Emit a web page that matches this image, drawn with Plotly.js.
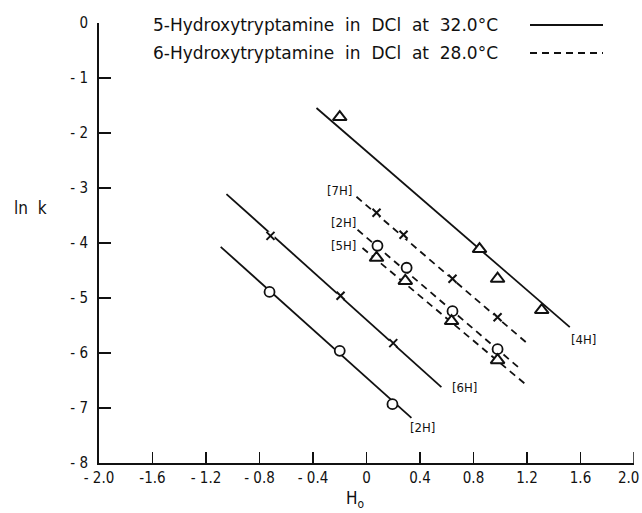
<!DOCTYPE html>
<html><head><meta charset="utf-8">
<script src="https://cdn.plot.ly/plotly-3.0.1.min.js"></script>
<style>html,body{margin:0;padding:0;background:#fff}</style>
</head><body>
<div id="chart" style="width:642px;height:513px"></div>
<script>
// ---- Data ----
// 5-Hydroxytryptamine in DCl at 32.0 C (solid lines)
const h4_x = [-0.20, 0.845, 0.98, 1.31];
const h4_y = [-1.71, -4.11, -4.65, -5.22];
const h4_fitX = [-0.374, 1.52];
const h4_fitY = [-1.545, -5.53];

const h6_x = [-0.718, -0.194, 0.20];
const h6_y = [-3.87, -4.96, -5.82];
const h6_fitX = [-1.047, 0.56];
const h6_fitY = [-3.11, -6.62];

const h2s_x = [-0.725, -0.20, 0.194];
const h2s_y = [-4.89, -5.96, -6.93];
const h2s_fitX = [-1.09, 0.336];
const h2s_fitY = [-4.07, -7.18];

// 6-Hydroxytryptamine in DCl at 28.0 C (dashed lines)
const h7_x = [0.075, 0.277, 0.643, 0.98];
const h7_y = [-3.45, -3.85, -4.65, -5.35];
const h7_fitX = [-0.075, 1.20];
const h7_fitY = [-3.16, -5.82];

const h2d_x = [0.082, 0.30, 0.643, 0.98];
const h2d_y = [-4.05, -4.45, -5.24, -5.93];
const h2d_fitX = [-0.067, 1.16];
const h2d_fitY = [-3.76, -6.31];

const h5_x = [0.075, 0.29, 0.636, 0.98];
const h5_y = [-4.27, -4.69, -5.42, -6.13];
const h5_fitX = [-0.03, 1.18];
const h5_fitY = [-4.09, -6.55];

// line labels
const labelText = ['[4H]', '[6H]', '[2H]', '[7H]', '[2H]', '[5H]'];
const labelX = [1.62, 0.73, 0.42, -0.20, -0.17, -0.17];
const labelY = [-5.76, -6.62, -7.36, -3.05, -3.62, -4.04];

const xTickVals = [-2.0, -1.6, -1.2, -0.8, -0.4, 0, 0.4, 0.8, 1.2, 1.6, 2.0];
const xTickText = ['- 2.0', '-1.6', '- 1.2', '- 0.8', '- 0.4', '0', '0.4', '0.8', '1.2', '1.6', '2.0'];
const yTickVals = [0, -1, -2, -3, -4, -5, -6, -7, -8];
const yTickText = ['0', '- 1', '- 2', '- 3', '- 4', '- 5', '- 6', '- 7', '- 8'];

const legendText = ['5-Hydroxytryptamine  in  DCl  at  32.0°C', '6-Hydroxytryptamine  in  DCl  at  28.0°C'];

// ---- Styling ----
const FONT = 'DejaVu Sans Condensed, Liberation Sans Narrow, Arial Narrow, sans-serif';
const WFONT = 'DejaVu Sans, sans-serif';
const BLACK = '#111';
const DASH = '7px,5px';
const L = 99, R = 8, T = 23, B = 50, W = 642, H = 513;
const pw = W - L - R, ph = H - T - B;
const px = p => (p - L) / pw;
const py = p => 1 - (p - T) / ph;

function fit(x, y, dash) {
  return {x: x, y: y, mode: 'lines', type: 'scatter', hoverinfo: 'skip',
    line: {color: BLACK, width: 1.8, dash: dash}, showlegend: false};
}
function pts(x, y, sym) {
  const traces = [];
  if (sym === 'cross') {
    traces.push({x: x, y: y, mode: 'markers', type: 'scatter', showlegend: false,
      marker: {symbol: 'circle', size: 9, color: '#fff', line: {width: 0}}});
    traces.push({x: x, y: y, mode: 'markers', type: 'scatter', showlegend: false,
      marker: {symbol: 'x-thin-open', size: 8, color: BLACK, line: {width: 2, color: BLACK}}});
  } else if (sym === 'circle') {
    traces.push({x: x, y: y, mode: 'markers', type: 'scatter', showlegend: false,
      marker: {symbol: 'circle', size: 10, color: '#fff', line: {width: 1.8, color: BLACK}}});
  } else {
    traces.push({x: x, y: y, mode: 'markers', type: 'scatter', showlegend: false,
      marker: {symbol: 'triangle-up', size: 12, color: '#fff', line: {width: 2, color: BLACK}}});
  }
  return traces;
}

const data = [
  fit(h4_fitX, h4_fitY, 'solid'), fit(h6_fitX, h6_fitY, 'solid'), fit(h2s_fitX, h2s_fitY, 'solid'),
  fit(h7_fitX, h7_fitY, DASH), fit(h2d_fitX, h2d_fitY, DASH), fit(h5_fitX, h5_fitY, DASH),
  ...pts(h4_x, h4_y, 'triangle'), ...pts(h6_x, h6_y, 'cross'), ...pts(h2s_x, h2s_y, 'circle'),
  ...pts(h7_x, h7_y, 'cross'), ...pts(h2d_x, h2d_y, 'circle'), ...pts(h5_x, h5_y, 'triangle')
];

const annotations = labelText.map((t, i) => ({
  x: labelX[i], y: labelY[i], xref: 'x', yref: 'y', text: t, showarrow: false,
  font: {family: FONT, size: 13, color: BLACK}
}));
annotations.push({xref: 'paper', yref: 'paper', x: px(151), y: py(25), xanchor: 'left', yanchor: 'middle',
  text: legendText[0], showarrow: false, font: {family: WFONT, size: 17, color: BLACK}});
annotations.push({xref: 'paper', yref: 'paper', x: px(151), y: py(53), xanchor: 'left', yanchor: 'middle',
  text: legendText[1], showarrow: false, font: {family: WFONT, size: 17, color: BLACK}});
annotations.push({xref: 'paper', yref: 'paper', x: px(30), y: py(208), xanchor: 'center', yanchor: 'middle',
  text: 'ln  k', showarrow: false, font: {family: FONT, size: 17, color: BLACK}});
annotations.push({xref: 'paper', yref: 'paper', x: px(355), y: py(500), xanchor: 'center', yanchor: 'middle',
  text: 'H<sub>o</sub>', showarrow: false, font: {family: FONT, size: 17, color: BLACK}});
// right-end x tick label (kept inside the page)
annotations.push({xref: 'x', yref: 'paper', x: 2.0, y: 0, yshift: -4, xshift: -6, xanchor: 'center', yanchor: 'top',
  text: '2.0', showarrow: false, font: {family: FONT, size: 15, color: BLACK}});

const shapes = [
  {type: 'line', xref: 'paper', yref: 'paper', x0: px(530), x1: px(603), y0: py(25), y1: py(25),
    line: {color: BLACK, width: 2}},
  {type: 'line', xref: 'paper', yref: 'paper', x0: px(530), x1: px(603), y0: py(53), y1: py(53),
    line: {color: BLACK, width: 1.8, dash: DASH}},
  {type: 'line', xref: 'x', yref: 'paper', x0: 2.0, x1: 2.0, y0: 0, y1: 11 / ph,
    line: {color: BLACK, width: 1.5}}
];

const layout = {
  width: W, height: H,
  margin: {l: L, r: R, t: T, b: B},
  paper_bgcolor: '#fff', plot_bgcolor: '#fff',
  showlegend: false,
  font: {family: FONT, color: BLACK},
  xaxis: {
    range: [-2.0, 2.0], tickvals: xTickVals.slice(0, -1), ticktext: xTickText.slice(0, -1),
    ticks: 'inside', ticklen: 11, tickwidth: 1.5, tickcolor: BLACK,
    showline: true, linecolor: BLACK, linewidth: 2, showgrid: false, zeroline: false,
    tickfont: {family: FONT, size: 15, color: BLACK}
  },
  yaxis: {
    range: [-8, 0], tickvals: yTickVals, ticktext: yTickText,
    ticks: 'inside', ticklen: 12, tickwidth: 1.5, tickcolor: BLACK, ticklabelstandoff: 6,
    showline: true, linecolor: BLACK, linewidth: 2, showgrid: false, zeroline: false,
    tickfont: {family: FONT, size: 15, color: BLACK}
  },
  annotations: annotations,
  shapes: shapes
};

Plotly.newPlot('chart', data, layout, {displayModeBar: false, staticPlot: true});
</script>
</body></html>
